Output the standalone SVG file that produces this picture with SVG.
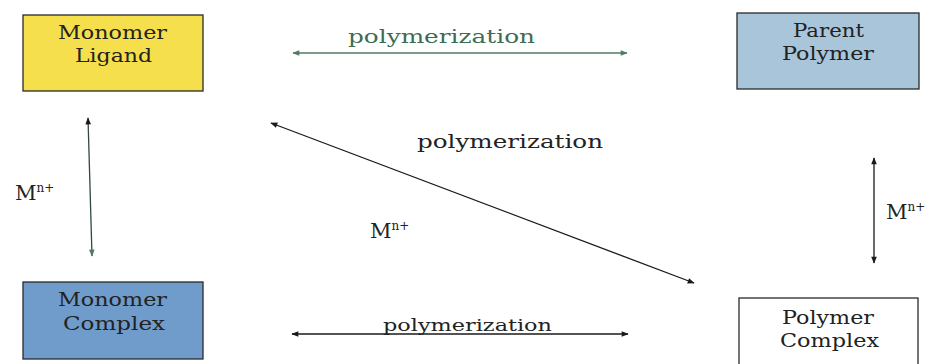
<svg xmlns="http://www.w3.org/2000/svg" width="938" height="364" viewBox="0 0 938 364">
<defs>
<marker id="ahk" viewBox="0 0 10 10" refX="9" refY="5" markerWidth="8" markerHeight="7" orient="auto-start-reverse" markerUnits="userSpaceOnUse"><path d="M0,1 L10,5 L0,9 z" fill="#1a1a1a"/></marker>
<marker id="ahg" viewBox="0 0 10 10" refX="9" refY="5" markerWidth="8" markerHeight="7" orient="auto-start-reverse" markerUnits="userSpaceOnUse"><path d="M0,1 L10,5 L0,9 z" fill="#4f7d63"/></marker>
</defs>
<style>
.box{stroke:#2a2a2a;stroke-width:1.3}
.k{stroke:#1a1a1a;stroke-width:1.3;fill:none}
</style>
<rect width="938" height="364" fill="#ffffff"/>
<g font-family="'DejaVu Serif', 'Liberation Serif', serif" font-size="18" fill="#222222">
<g id="monomer-ligand">
<rect class="box" x="23" y="15" width="180" height="76" fill="#f6df4c"/>
<text x="58" y="39" textLength="109" lengthAdjust="spacingAndGlyphs">Monomer</text>
<text x="75" y="62" textLength="77" lengthAdjust="spacingAndGlyphs">Ligand</text>
</g>
<g id="parent-polymer">
<rect class="box" x="737" y="13" width="182" height="76" fill="#a9c5da"/>
<text x="793" y="37" textLength="71" lengthAdjust="spacingAndGlyphs">Parent</text>
<text x="782" y="60" textLength="92" lengthAdjust="spacingAndGlyphs">Polymer</text>
</g>
<g id="monomer-complex">
<rect class="box" x="23" y="282" width="180" height="77" fill="#6f9ccb"/>
<text x="58" y="306" textLength="109" lengthAdjust="spacingAndGlyphs">Monomer</text>
<text x="63" y="330" textLength="102" lengthAdjust="spacingAndGlyphs">Complex</text>
</g>
<g id="polymer-complex">
<rect class="box" x="739" y="298" width="179" height="80" fill="#ffffff"/>
<text x="782" y="324" textLength="92" lengthAdjust="spacingAndGlyphs">Polymer</text>
<text x="780" y="347" textLength="99" lengthAdjust="spacingAndGlyphs">Complex</text>
</g>
<g id="connectors">
<line x1="293" y1="53" x2="627" y2="53" stroke="#4f7d63" stroke-width="1.6" marker-start="url(#ahg)" marker-end="url(#ahg)"/>
<line class="k" x1="88" y1="118" x2="92" y2="256" style="stroke:#2f4a3a" marker-start="url(#ahk)" marker-end="url(#ahg)"/>
<line class="k" x1="271" y1="123" x2="694" y2="283" marker-start="url(#ahk)" marker-end="url(#ahk)"/>
<line class="k" x1="874" y1="158" x2="874" y2="263" marker-start="url(#ahk)" marker-end="url(#ahk)"/>
<line class="k" x1="292" y1="334" x2="628" y2="334" marker-start="url(#ahk)" marker-end="url(#ahk)"/>
</g>
<g id="labels" font-size="19">
<text x="348" y="43" textLength="187" lengthAdjust="spacingAndGlyphs" fill="#3e6c52">polymerization</text>
<text x="417" y="148" textLength="186" lengthAdjust="spacingAndGlyphs">polymerization</text>
<text x="383" y="331" textLength="169" lengthAdjust="spacingAndGlyphs" font-size="17">polymerization</text>
<text x="15" y="200" font-size="21">M<tspan font-size="12" dy="-8">n+</tspan></text>
<text x="370" y="238" font-size="21">M<tspan font-size="12" dy="-8">n+</tspan></text>
<text x="886" y="219" font-size="21">M<tspan font-size="12" dy="-8">n+</tspan></text>
</g>
</g>
</svg>
